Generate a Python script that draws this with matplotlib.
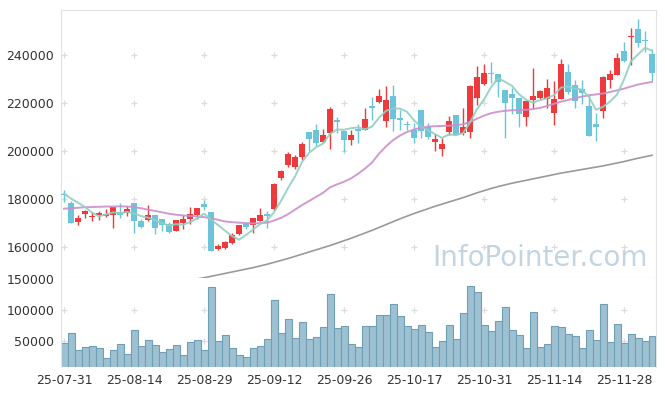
import matplotlib
matplotlib.use('Agg')
import matplotlib.pyplot as plt
import numpy as np
import pandas as pd

# ---------------- data ----------------
opens = [182100, 178500, 170600, 173750, 172500, 173600, 173050, 173600, 174700, 174400,
         178300, 171200, 171400, 173300, 171700, 169700, 166800, 170100, 171800, 173300,
         178200, 174600, 159300, 159700, 161800, 165400, 169600, 169200, 171000, 173750,
         176100, 188900, 194400, 193500, 197600, 207900, 209000, 203900, 207600, 212900,
         208500, 204600, 209300, 209000, 218750, 220400, 212600, 222900, 213750, 211500,
         209000, 217100, 210100, 203900, 200800, 208100, 215000, 207600, 208100, 222200,
         227800, 232500, 231900, 225600, 223600, 222200, 214300, 221100, 222200, 221900,
         216000, 221700, 232900, 227400, 226000, 218750, 211250, 216800, 229600, 231700,
         241700, 247400, 250800, 246000, 240400]
highs = [183700, 179200, 173600, 175500, 174700, 175000, 176100, 176700, 178600, 177200,
         178300, 171900, 177500, 173300, 171700, 170600, 171300, 173300, 176800, 176600,
         179900, 174850, 161250, 162650, 165970, 169300, 170700, 172100, 176500, 175100,
         186800, 192360, 199700, 198330, 203890, 207900, 211250, 209030, 218200, 214300,
         208500, 209000, 211500, 217780, 222400, 226000, 227100, 227400, 217100, 212640,
         211530, 217100, 211530, 207200, 205300, 214720, 215000, 217800, 227400, 235300,
         236110, 237200, 232000, 225600, 226100, 222200, 220800, 234400, 225300, 229900,
         229300, 238200, 236250, 229600, 229600, 223300, 215700, 231250, 233750, 240700,
         245600, 251100, 254900, 250100, 242400]
lows = [178900, 170000, 169400, 172200, 171100, 171500, 172800, 168200, 172200, 173000,
        166100, 168200, 170800, 165700, 166900, 165800, 166700, 167800, 169900, 172000,
        175700, 158500, 158750, 159300, 161530, 165300, 167600, 166000, 170970, 168200,
        175700, 187920, 193500, 192780, 196250, 200150, 202100, 203470, 201100, 207600,
        199700, 202500, 203500, 208750, 212900, 220100, 210100, 208500, 208750, 208750,
        203470, 205600, 205280, 200000, 197900, 206670, 206670, 206700, 205300, 219200,
        227500, 228200, 222600, 205700, 215300, 210100, 210560, 217800, 221700, 217800,
        211100, 221700, 223600, 217800, 219600, 206200, 204300, 213600, 226100, 231600,
        237200, 235800, 243200, 241400, 229300]
closes = [181900, 170100, 172200, 175000, 173050, 174400, 173750, 176700, 173300, 175800,
          171000, 168500, 173300, 168000, 169400, 166400, 171250, 172000, 173750, 176500,
          176800, 158700, 160800, 162100, 165300, 169200, 168500, 172100, 173300, 173100,
          186250, 191800, 199000, 197400, 203200, 205100, 203500, 206700, 217500, 212300,
          204600, 206700, 208500, 213500, 217800, 222900, 221250, 213500, 213100, 211000,
          205300, 208300, 206000, 205000, 203100, 212500, 206900, 210000, 227200, 230800,
          232600, 232300, 228600, 220100, 222200, 215300, 220800, 222800, 225000, 226250,
          221900, 236250, 224700, 221000, 224300, 206250, 209900, 230700, 232100, 238600,
          237600, 247900, 245100, 245800, 232400]
# closes of the four sessions before the first visible one (for the 5-day average)
prior_closes = [180500, 180600, 184000, 184800]

volumes = [46240, 62370, 34950, 39790, 41400, 38170, 23660, 34950, 44630, 30110,
           67200, 41400, 51080, 43020, 31720, 36560, 43020, 28500, 47850, 51080,
           34950, 136560, 49470, 59140, 38170, 28500, 25270, 38170, 41400, 52690,
           115590, 62370, 84950, 54310, 80110, 52690, 55920, 72050, 125270, 70430,
           73660, 44630, 39790, 73660, 73660, 91400, 91400, 109140, 89790, 73660,
           68820, 75270, 63980, 39790, 49470, 75270, 52690, 94630, 138170, 128500,
           75270, 65600, 81720, 104300, 67200, 59140, 38170, 96240, 39790, 44630,
           73660, 72050, 60760, 57530, 38170, 67200, 51080, 109140, 47850, 76880,
           46240, 60760, 54310, 49470, 57530]

ma20 = [176100, 176300, 176500, 176700, 176800, 176900, 177000, 177000, 177100, 177000,
        176800, 176300, 175700, 175200, 174600, 174000, 173600, 173300, 173100, 172900,
        172600, 172100, 171500, 170800, 170500, 170300, 170100, 170000, 170100, 170300,
        171200, 172300, 173800, 175700, 177600, 179300, 181000, 182700, 185000, 186200,
        187300, 188700, 190600, 192800, 195300, 199000, 202000, 204600, 206500, 208000,
        209000, 209800, 210200, 210400, 210500, 210600, 210800, 211200, 212200, 213500,
        214800, 215800, 216400, 216800, 217000, 217100, 217200, 217500, 218000, 218800,
        219700, 220600, 221300, 222000, 222700, 223300, 223600, 224000, 224600, 225300,
        226000, 226900, 227700, 228300, 228800]

ma60 = [137800, 138300, 138800, 139300, 139800, 140300, 140800, 141300, 141900, 142500,
        143000, 143500, 144000, 144500, 144900, 145300, 145700, 146100, 146500, 146900,
        147400, 148000, 148600, 149200, 149800, 150400, 151000, 151600, 152300, 153000,
        153800, 154600, 155400, 156300, 157200, 158100, 159000, 159900, 160800, 161800,
        162800, 163800, 164900, 166000, 167100, 168300, 169500, 170700, 171900, 173000,
        174100, 175100, 176100, 177100, 178000, 178900, 179800, 180700, 181700, 182700,
        183600, 184500, 185300, 186000, 186700, 187300, 187900, 188500, 189100, 189700,
        190300, 190900, 191400, 191900, 192400, 192900, 193400, 193900, 194500, 195100,
        195700, 196400, 197100, 197700, 198300]

tick_labels = ['25-07-31', '25-08-14', '25-08-29', '25-09-12', '25-09-26',
               '25-10-17', '25-10-31', '25-11-14', '25-11-28']
tick_pos = [0, 10, 20, 30, 40, 50, 60, 70, 80]
price_ticks = [160000, 180000, 200000, 220000, 240000]
vol_ticks = [50000, 100000, 150000]

# ---------------- style ----------------
UP = '#ee3a3c'
DOWN = '#6cc4da'
plt.rcParams['font.family'] = ['DejaVu Sans']

fig = plt.figure(figsize=(6.65, 3.96), dpi=100)
L, R = 61 / 665, 655.5 / 665
axp = fig.add_axes([L, 1 - 278 / 396, R - L, 268 / 396])
axv = fig.add_axes([L, 1 - 367 / 396, R - L, 89 / 396], sharex=axp)

x = np.arange(len(closes))
o = np.array(opens); h = np.array(highs); lo = np.array(lows); c = np.array(closes)
up = c >= o
colors = np.where(up, UP, DOWN)

# wicks
axp.vlines(x, lo, h, colors=colors, linewidth=1.0, zorder=2)
# bodies
body_h = np.maximum(np.abs(c - o), 350)
axp.bar(x, body_h, bottom=np.minimum(o, c), width=0.72, color=colors, linewidth=0, zorder=3)

# moving averages
allc = pd.Series(prior_closes + closes)
ma5 = allc.rolling(5).mean().to_numpy()[len(prior_closes):]
axp.plot(x, ma60, color='#9a9a9a', linewidth=1.2, zorder=4)
axp.plot(x, ma20, color='#cc8fcc', linewidth=1.4, alpha=0.9, zorder=4)
axp.plot(x, ma5, color='#8fd0c2', linewidth=1.4, alpha=0.9, zorder=4)

# volume
axv.bar(x, volumes, width=1.0, color='#9ec1d2', edgecolor='#6f9fb6', linewidth=0.8, zorder=2)

# limits
axp.set_xlim(-0.43, 84.5)
axp.set_ylim(147300, 258700)
axv.set_ylim(8500, 151000)

# grid crosses
for ax, yt in ((axp, price_ticks), (axv, vol_ticks[:2])):
    gx, gy = np.meshgrid(tick_pos, yt)
    ax.scatter(gx.ravel(), gy.ravel(), marker='+', s=22, color='#dcdcdc', linewidths=0.9, zorder=1)

# ticks
axp.set_yticks(price_ticks)
axp.set_yticklabels([str(v) for v in price_ticks])
axv.set_yticks(vol_ticks)
axv.set_yticklabels([str(v) for v in vol_ticks])
axv.set_xticks(tick_pos)
axv.set_xticklabels(tick_labels)
for ax in (axp, axv):
    ax.tick_params(axis='both', length=0, labelsize=9, colors='#333333', pad=5)
    for s in ax.spines.values():
        s.set_color('#e2e2e2')
        s.set_linewidth(0.8)
axp.tick_params(axis='x', labelbottom=False)
axp.spines['bottom'].set_color('#cccccc')
axv.spines['top'].set_visible(False)
axv.spines['bottom'].set_visible(False)

# watermark
axp.text(0.987, 0.045, 'InfoPointer.com', transform=axp.transAxes, ha='right', va='baseline',
         fontsize=20, color='#c3d5e1', zorder=0)

fig.savefig('out.png', dpi=100)
